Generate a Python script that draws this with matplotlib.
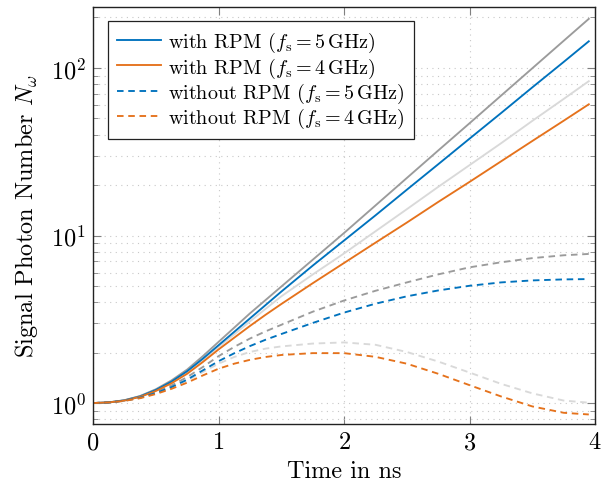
import matplotlib
matplotlib.use("Agg")
import matplotlib.pyplot as plt
from matplotlib.ticker import LogLocator, NullFormatter, FixedLocator

plt.rcParams['font.family'] = ['cmr10', 'DejaVu Serif']
plt.rcParams['mathtext.fontset'] = 'cm'
plt.rcParams['axes.formatter.use_mathtext'] = True

# time axis (ns)
t = [0, 0.125, 0.25, 0.375, 0.5, 0.625, 0.75, 0.875, 1.0, 1.125, 1.25, 1.375, 1.5,
     1.75, 2.0, 2.25, 2.5, 2.75, 3.0, 3.25, 3.5, 3.75, 3.95]

# with RPM
rpm_5 = [1.000, 1.009, 1.038, 1.096, 1.197, 1.343, 1.549, 1.841, 2.213, 2.661, 3.199, 3.846,
         4.624, 6.607, 9.333, 13.18, 18.75, 26.61, 37.84, 53.70, 76.56, 108.6, 144.2]
rpm_4 = [1.000, 1.009, 1.035, 1.089, 1.180, 1.312, 1.496, 1.758, 2.089, 2.455, 2.884, 3.365,
         3.899, 5.188, 6.855, 9.057, 11.94, 15.85, 20.89, 27.67, 36.64, 48.42, 60.67]
# without RPM
norpm_5 = [1.000, 1.009, 1.033, 1.076, 1.148, 1.245, 1.380, 1.567, 1.778, 1.982, 2.188, 2.388,
           2.582, 3.006, 3.467, 3.917, 4.335, 4.699, 5.012, 5.248, 5.395, 5.470, 5.495]
norpm_4 = [1.000, 1.009, 1.030, 1.069, 1.132, 1.216, 1.324, 1.462, 1.603, 1.718, 1.811, 1.884,
           1.936, 1.986, 1.986, 1.888, 1.718, 1.496, 1.279, 1.096, 0.955, 0.875, 0.855]
# gray reference curves (no legend entries)
gray_dark_solid = [1.000, 1.009, 1.040, 1.102, 1.208, 1.365, 1.585, 1.905, 2.317, 2.818, 3.428, 4.121,
                   4.955, 7.161, 10.35, 15.10, 22.03, 32.14, 46.77, 68.23, 99.54, 145.2, 196.3]
gray_light_solid = [1.000, 1.009, 1.038, 1.094, 1.191, 1.334, 1.531, 1.807, 2.163, 2.570, 3.069, 3.648,
                    4.335, 5.848, 7.816, 10.59, 14.35, 19.50, 26.30, 35.48, 48.31, 65.31, 83.37]
gray_dark_dashed = [1.000, 1.009, 1.035, 1.084, 1.161, 1.274, 1.429, 1.641, 1.905, 2.163, 2.427, 2.679,
                    2.931, 3.508, 4.093, 4.677, 5.248, 5.861, 6.457, 6.918, 7.328, 7.621, 7.762]
gray_light_dashed = [1.000, 1.009, 1.033, 1.074, 1.143, 1.236, 1.365, 1.531, 1.718, 1.884, 2.018, 2.113,
                     2.178, 2.265, 2.301, 2.228, 2.018, 1.770, 1.521, 1.303, 1.143, 1.035, 1.005]

labels = [r'with RPM ($f_{\mathrm{s}} = 5\,$GHz)',
          r'with RPM ($f_{\mathrm{s}} = 4\,$GHz)',
          r'without RPM ($f_{\mathrm{s}} = 5\,$GHz)',
          r'without RPM ($f_{\mathrm{s}} = 4\,$GHz)']
xticks = [0, 1, 2, 3, 4]

blue = '#0072BD'
orange = '#E5721C'
dgray = '#9B9B9B'
lgray = '#D9D9D9'
lw = 1.35
dash = (0, (3.5, 2.5))

fig = plt.figure(figsize=(6.02, 4.85), dpi=100)
ax = fig.add_axes([0.1545, 0.1237, 0.834, 0.8598])

ax.plot(t, gray_dark_solid, color=dgray, lw=lw)
ax.plot(t, gray_light_solid, color=lgray, lw=lw)
ax.plot(t, gray_dark_dashed, color=dgray, lw=lw, ls=dash)
ax.plot(t, gray_light_dashed, color=lgray, lw=lw, ls=dash)
h1, = ax.plot(t, rpm_5, color=blue, lw=lw)
h2, = ax.plot(t, rpm_4, color=orange, lw=lw)
h3, = ax.plot(t, norpm_5, color=blue, lw=lw, ls=dash)
h4, = ax.plot(t, norpm_4, color=orange, lw=lw, ls=dash)

ax.set_yscale('log')
ax.set_xlim(0, 4)
ax.set_ylim(0.75, 231)
ax.xaxis.set_major_locator(FixedLocator(xticks))
ax.yaxis.set_major_locator(LogLocator(base=10))
ax.yaxis.set_minor_locator(LogLocator(base=10, subs=range(2, 10)))
ax.yaxis.set_minor_formatter(NullFormatter())

ax.grid(True, which='major', axis='x', ls=(0, (1, 4)), color='#C8C8C8', lw=0.8)
ax.grid(True, which='both', axis='y', ls=(0, (1, 4)), color='#C8C8C8', lw=0.8)
ax.set_axisbelow(True)

ax.tick_params(which='both', direction='in', top=True, right=True, color='#808080', labelsize=17.5)
ax.tick_params(which='major', length=6, width=0.8, pad=5)
ax.tick_params(which='minor', length=3.5, width=0.6)
for s in ax.spines.values():
    s.set_color('#222222')
    s.set_linewidth(1.0)

ax.set_xlabel('Time in ns', fontsize=17.5, labelpad=5)
ax.set_ylabel(r'Signal Photon Number $N_{\omega}$', fontsize=17.5, labelpad=8)

leg = ax.legend([h1, h2, h3, h4], labels, loc='upper left', fontsize=14.5,
                bbox_to_anchor=(0.03, 0.966), frameon=True, fancybox=False,
                framealpha=1, edgecolor='#222222', handlelength=2.2,
                borderaxespad=0, handletextpad=0.35, labelspacing=0.05, borderpad=0.45)
leg.get_frame().set_linewidth(0.9)

fig.savefig('out.png', dpi=100)
